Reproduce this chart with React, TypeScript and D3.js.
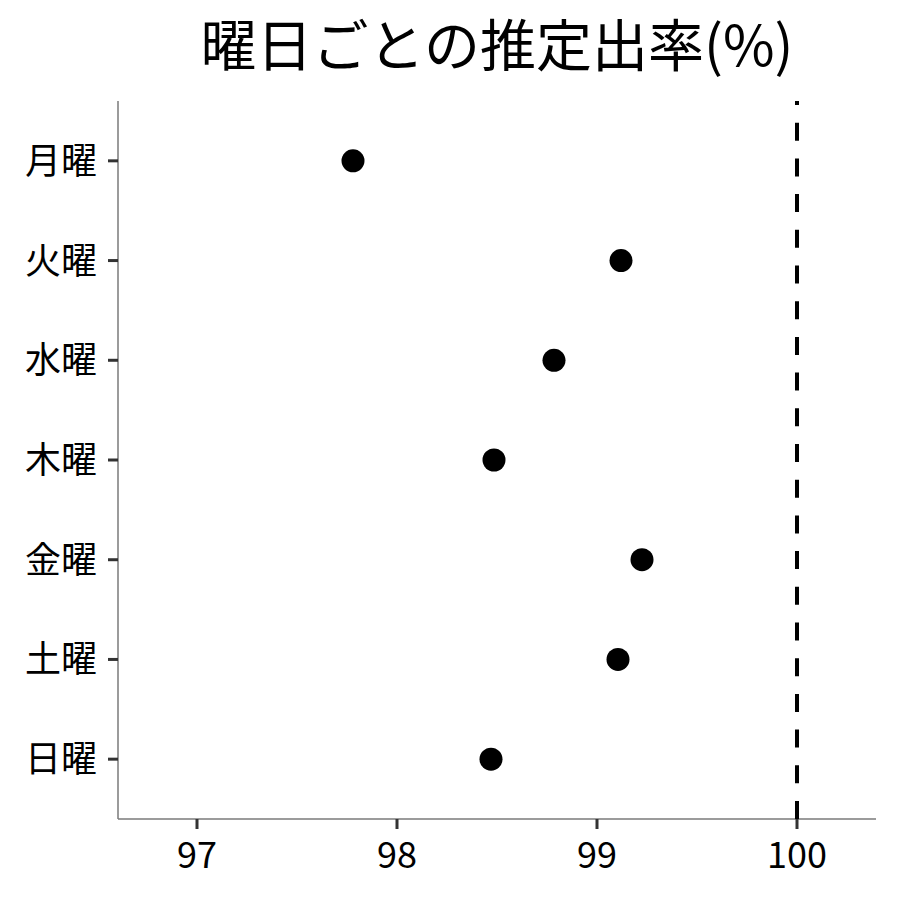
import React from 'react';
import * as d3 from 'd3';

// Day-of-week estimates (%)
const days = ['月曜', '火曜', '水曜', '木曜', '金曜', '土曜', '日曜'];
const rates = [97.78, 99.12, 98.785, 98.485, 99.225, 99.105, 98.47];
const xTicks = [97, 98, 99, 100];
const refValue = 100;

const W = 900;
const H = 900;
const margin = { top: 101, right: 24, bottom: 81, left: 118 };
const FONT = '"Noto Sans CJK JP", "Noto Sans", sans-serif';

const App: React.FC = () => {
  const x = d3.scaleLinear()
    .domain([96.605, 100.395])
    .range([margin.left, W - margin.right]);

  // discrete axis with ggplot-style 0.6 expansion
  const yIdx = d3.scaleLinear()
    .domain([-0.6, days.length - 1 + 0.6])
    .range([margin.top, H - margin.bottom]);
  const y = (d: string) => yIdx(days.indexOf(d));

  const bottom = H - margin.bottom;
  const top = margin.top;

  return (
    <svg width={W} height={H} style={{ display: 'block', position: 'absolute', left: 0, top: 0 }}>
      <rect width={W} height={H} fill="#fff" />
      <text
        x={(margin.left + W - margin.right) / 2}
        y={66}
        textAnchor="middle"
        fontFamily={FONT}
        fontSize={56}
        fill="#000"
      >
        曜日ごとの推定出率(%)
      </text>

      {/* axes lines */}
      <line x1={margin.left} x2={margin.left} y1={top} y2={bottom} stroke="#7a7a7a" strokeWidth={1.5} />
      <line x1={margin.left} x2={W - margin.right} y1={bottom} y2={bottom} stroke="#7a7a7a" strokeWidth={1.5} />

      {/* reference line */}
      <line
        x1={x(refValue)}
        x2={x(refValue)}
        y1={bottom}
        y2={top}
        stroke="#000"
        strokeWidth={4}
        strokeDasharray="18,17.7"
      />

      {/* y ticks */}
      {days.map(d => (
        <g key={d}>
          <line x1={margin.left - 10} x2={margin.left} y1={y(d)} y2={y(d)} stroke="#333" strokeWidth={3} />
          <text
            x={margin.left - 21}
            y={y(d)}
            dy="0.36em"
            textAnchor="end"
            fontFamily={FONT}
            fontSize={36}
            fill="#000"
          >
            {d}
          </text>
        </g>
      ))}

      {/* x ticks */}
      {xTicks.map(t => (
        <g key={t}>
          <line x1={x(t)} x2={x(t)} y1={bottom} y2={bottom + 10} stroke="#333" strokeWidth={3} />
          <text
            x={x(t)}
            y={868}
            textAnchor="middle"
            fontFamily={FONT}
            fontSize={36}
            fill="#000"
          >
            {t}
          </text>
        </g>
      ))}

      {/* points */}
      {days.map((d, i) => (
        <circle key={d} cx={x(rates[i])} cy={y(d)} r={11.5} fill="#000" />
      ))}
    </svg>
  );
};

export default App;
